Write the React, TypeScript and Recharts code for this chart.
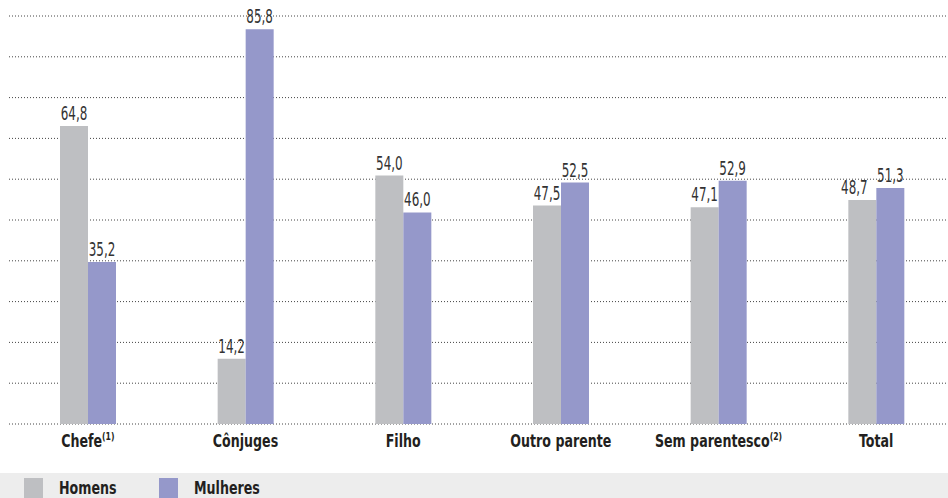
import { BarChart, Bar, XAxis, YAxis, CartesianGrid, LabelList } from 'recharts';

const categories = ['Chefe', 'Cônjuges', 'Filho', 'Outro parente', 'Sem parentesco', 'Total'];
const notes = ['1', '', '', '', '2', ''];
const homens = [64.8, 14.2, 54.0, 47.5, 47.1, 48.7];
const mulheres = [35.2, 85.8, 46.0, 52.5, 52.9, 51.3];
const gridTicks = [0, 8.87, 17.74, 26.61, 35.48, 44.35, 53.22, 62.09, 70.96, 79.83, 88.7];

const series = [
  { key: 'homens', name: 'Homens', color: '#bebfc2' },
  { key: 'mulheres', name: 'Mulheres', color: '#9598ca' },
];

const data = categories.map((c, i) => ({ name: c, homens: homens[i], mulheres: mulheres[i] }));

const FONT = "'DejaVu Sans Condensed', 'DejaVu Sans', sans-serif";
const INK = '#231f20';

const fmt = (v: number) => v.toFixed(1).replace('.', ',');

// the original type is a tall condensed face, so squeeze DejaVu horizontally
function makeLabel(isLeft: boolean) {
  return function ValueLabel(props: any) {
    const vb = props.viewBox ?? {};
    const x = props.x ?? vb.x;
    const y = props.y ?? vb.y;
    const w = props.width ?? vb.width;
    const i = props.index ?? 0;
    // nudge the left label away when both bars are almost the same height
    const shift = isLeft && Math.abs(homens[i] - mulheres[i]) < 4 ? -8 : 0;
    return (
      <text
        transform={`translate(${x + w / 2 + shift},${y - 6}) scale(0.7,1)`}
        textAnchor="middle"
        fontFamily={FONT}
        fontSize={19}
        fill="#333"
      >
        {fmt(Number(props.value))}
      </text>
    );
  };
}

function CategoryTick({ x, y, payload }: { x: number; y: number; payload: { value: string } }) {
  const note = notes[categories.indexOf(payload.value)];
  return (
    <text
      transform={`translate(${x},${y + 23}) scale(0.78,1)`}
      textAnchor="middle"
      fontFamily={FONT}
      fontWeight="bold"
      fontSize={18}
      fill={INK}
    >
      {payload.value}
      {note && (
        <tspan fontSize={11} dy={-7}>
          ({note})
        </tspan>
      )}
    </text>
  );
}

export default function App() {
  return (
    <div style={{ position: 'absolute', left: 0, top: 0, width: 948, height: 498, overflow: 'hidden', background: '#fff' }}>
      <BarChart
        width={960}
        height={473}
        data={data}
        margin={{ top: 16, right: 5, left: 9, bottom: 0 }}
        barGap={0}
      >
        <CartesianGrid vertical={false} stroke="#444" strokeDasharray="1 2" />
        <XAxis
          dataKey="name"
          axisLine={false}
          tickLine={false}
          tickSize={0}
          tickMargin={0}
          height={49}
          interval={0}
          tick={CategoryTick}
        />
        <YAxis hide domain={[0, 88.7]} ticks={gridTicks} />
        {series.map((s, si) => (
          <Bar key={s.key} dataKey={s.key} name={s.name} fill={s.color} barSize={28} isAnimationActive={false}>
            <LabelList dataKey={s.key} content={makeLabel(si === 0)} />
          </Bar>
        ))}
      </BarChart>
      <div
        style={{
          position: 'absolute',
          left: 0,
          top: 473,
          width: 948,
          height: 25,
          background: '#ededed',
          fontFamily: FONT,
          fontWeight: 'bold',
          fontSize: 18,
          color: INK,
        }}
      >
        {series.map((s, i) => (
          <div key={s.key} style={{ position: 'absolute', left: 24 + i * 135, top: 5, display: 'flex', alignItems: 'center' }}>
            <span style={{ display: 'inline-block', width: 19, height: 20, background: s.color, marginRight: 16 }} />
            <span style={{ lineHeight: '20px', display: 'inline-block', transform: 'scaleX(0.78)', transformOrigin: 'left center' }}>
              {s.name}
            </span>
          </div>
        ))}
      </div>
    </div>
  );
}
